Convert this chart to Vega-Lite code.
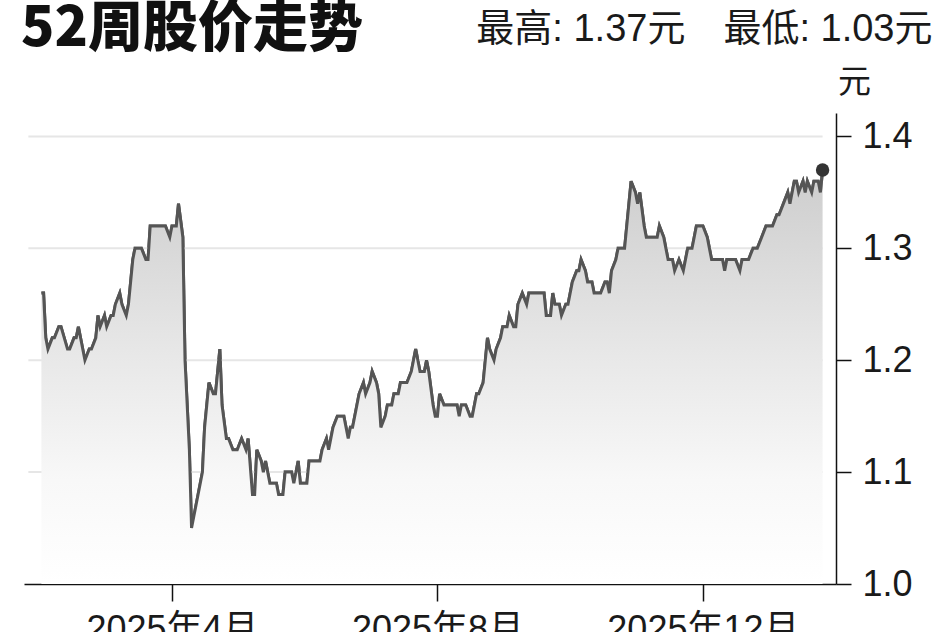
{
  "$schema": "https://vega.github.io/schema/vega-lite/v6.json",
  "autosize": {"type": "none"},
  "width": 812,
  "height": 471,
  "padding": {"left": 24, "top": 113, "right": 112, "bottom": 48},
  "background": "#ffffff",
  "title": {
    "text": "52周股价走势",
    "anchor": "start",
    "frame": "group",
    "orient": "top",
    "offset": 0,
    "dx": -3,
    "dy": 91,
    "baseline": "alphabetic",
    "font": "Noto Sans CJK SC",
    "fontSize": 55,
    "fontWeight": 900,
    "color": "#111111"
  },
  "config": {"view": {"stroke": null}},
  "data": {
    "values": [
      {"date": "2025-01-31", "price": 1.26}, {"date": "2025-02-01", "price": 1.26}, {"date": "2025-02-02", "price": 1.22}, {"date": "2025-02-03", "price": 1.21},
      {"date": "2025-02-05", "price": 1.22}, {"date": "2025-02-06", "price": 1.22}, {"date": "2025-02-08", "price": 1.23}, {"date": "2025-02-09", "price": 1.23},
      {"date": "2025-02-12", "price": 1.21}, {"date": "2025-02-13", "price": 1.21}, {"date": "2025-02-15", "price": 1.22}, {"date": "2025-02-16", "price": 1.22},
      {"date": "2025-02-17", "price": 1.23}, {"date": "2025-02-20", "price": 1.20}, {"date": "2025-02-22", "price": 1.21}, {"date": "2025-02-23", "price": 1.21},
      {"date": "2025-02-25", "price": 1.22}, {"date": "2025-02-26", "price": 1.24}, {"date": "2025-02-27", "price": 1.23}, {"date": "2025-03-01", "price": 1.24},
      {"date": "2025-03-02", "price": 1.23}, {"date": "2025-03-04", "price": 1.24}, {"date": "2025-03-05", "price": 1.24}, {"date": "2025-03-06", "price": 1.25},
      {"date": "2025-03-08", "price": 1.26}, {"date": "2025-03-09", "price": 1.25}, {"date": "2025-03-11", "price": 1.24}, {"date": "2025-03-12", "price": 1.25},
      {"date": "2025-03-14", "price": 1.29}, {"date": "2025-03-15", "price": 1.30}, {"date": "2025-03-18", "price": 1.30}, {"date": "2025-03-20", "price": 1.29},
      {"date": "2025-03-21", "price": 1.29}, {"date": "2025-03-22", "price": 1.32}, {"date": "2025-03-24", "price": 1.32}, {"date": "2025-03-26", "price": 1.32},
      {"date": "2025-03-27", "price": 1.32}, {"date": "2025-03-29", "price": 1.32}, {"date": "2025-03-31", "price": 1.31}, {"date": "2025-04-01", "price": 1.32},
      {"date": "2025-04-03", "price": 1.32}, {"date": "2025-04-04", "price": 1.34}, {"date": "2025-04-06", "price": 1.31}, {"date": "2025-04-07", "price": 1.20},
      {"date": "2025-04-09", "price": 1.12}, {"date": "2025-04-10", "price": 1.05}, {"date": "2025-04-12", "price": 1.07}, {"date": "2025-04-13", "price": 1.08},
      {"date": "2025-04-15", "price": 1.10}, {"date": "2025-04-16", "price": 1.14}, {"date": "2025-04-17", "price": 1.16}, {"date": "2025-04-18", "price": 1.18},
      {"date": "2025-04-20", "price": 1.17}, {"date": "2025-04-21", "price": 1.17}, {"date": "2025-04-23", "price": 1.21}, {"date": "2025-04-24", "price": 1.16},
      {"date": "2025-04-26", "price": 1.13}, {"date": "2025-04-27", "price": 1.13}, {"date": "2025-04-29", "price": 1.12}, {"date": "2025-05-01", "price": 1.12},
      {"date": "2025-05-03", "price": 1.13}, {"date": "2025-05-05", "price": 1.12}, {"date": "2025-05-06", "price": 1.13}, {"date": "2025-05-08", "price": 1.08},
      {"date": "2025-05-09", "price": 1.08}, {"date": "2025-05-10", "price": 1.12}, {"date": "2025-05-12", "price": 1.11}, {"date": "2025-05-13", "price": 1.10},
      {"date": "2025-05-14", "price": 1.11}, {"date": "2025-05-16", "price": 1.09}, {"date": "2025-05-17", "price": 1.09}, {"date": "2025-05-19", "price": 1.09},
      {"date": "2025-05-20", "price": 1.08}, {"date": "2025-05-22", "price": 1.08}, {"date": "2025-05-23", "price": 1.10}, {"date": "2025-05-25", "price": 1.10},
      {"date": "2025-05-26", "price": 1.10}, {"date": "2025-05-27", "price": 1.09}, {"date": "2025-05-29", "price": 1.11}, {"date": "2025-05-30", "price": 1.09},
      {"date": "2025-05-31", "price": 1.09}, {"date": "2025-06-02", "price": 1.09}, {"date": "2025-06-03", "price": 1.11}, {"date": "2025-06-05", "price": 1.11},
      {"date": "2025-06-06", "price": 1.11}, {"date": "2025-06-08", "price": 1.11}, {"date": "2025-06-09", "price": 1.12}, {"date": "2025-06-11", "price": 1.13},
      {"date": "2025-06-12", "price": 1.12}, {"date": "2025-06-14", "price": 1.14}, {"date": "2025-06-16", "price": 1.15}, {"date": "2025-06-17", "price": 1.15},
      {"date": "2025-06-19", "price": 1.15}, {"date": "2025-06-21", "price": 1.13}, {"date": "2025-06-22", "price": 1.14}, {"date": "2025-06-23", "price": 1.14},
      {"date": "2025-06-25", "price": 1.16}, {"date": "2025-06-26", "price": 1.17}, {"date": "2025-06-28", "price": 1.18}, {"date": "2025-06-29", "price": 1.17},
      {"date": "2025-07-01", "price": 1.18}, {"date": "2025-07-02", "price": 1.19}, {"date": "2025-07-04", "price": 1.18}, {"date": "2025-07-05", "price": 1.17},
      {"date": "2025-07-06", "price": 1.14}, {"date": "2025-07-08", "price": 1.15}, {"date": "2025-07-09", "price": 1.16}, {"date": "2025-07-11", "price": 1.16},
      {"date": "2025-07-12", "price": 1.17}, {"date": "2025-07-14", "price": 1.17}, {"date": "2025-07-15", "price": 1.18}, {"date": "2025-07-17", "price": 1.18},
      {"date": "2025-07-18", "price": 1.18}, {"date": "2025-07-20", "price": 1.19}, {"date": "2025-07-21", "price": 1.20}, {"date": "2025-07-22", "price": 1.21},
      {"date": "2025-07-24", "price": 1.19}, {"date": "2025-07-26", "price": 1.19}, {"date": "2025-07-27", "price": 1.20}, {"date": "2025-07-28", "price": 1.19},
      {"date": "2025-07-30", "price": 1.16}, {"date": "2025-07-31", "price": 1.15}, {"date": "2025-08-01", "price": 1.15}, {"date": "2025-08-02", "price": 1.17},
      {"date": "2025-08-04", "price": 1.16}, {"date": "2025-08-05", "price": 1.16}, {"date": "2025-08-07", "price": 1.16}, {"date": "2025-08-08", "price": 1.16},
      {"date": "2025-08-10", "price": 1.16}, {"date": "2025-08-11", "price": 1.15}, {"date": "2025-08-12", "price": 1.16}, {"date": "2025-08-14", "price": 1.16},
      {"date": "2025-08-16", "price": 1.15}, {"date": "2025-08-17", "price": 1.15}, {"date": "2025-08-19", "price": 1.17}, {"date": "2025-08-20", "price": 1.17},
      {"date": "2025-08-22", "price": 1.18}, {"date": "2025-08-24", "price": 1.22}, {"date": "2025-08-25", "price": 1.21}, {"date": "2025-08-27", "price": 1.20},
      {"date": "2025-08-28", "price": 1.21}, {"date": "2025-08-30", "price": 1.22}, {"date": "2025-08-31", "price": 1.23}, {"date": "2025-09-02", "price": 1.23},
      {"date": "2025-09-03", "price": 1.24}, {"date": "2025-09-05", "price": 1.23}, {"date": "2025-09-06", "price": 1.23}, {"date": "2025-09-07", "price": 1.25},
      {"date": "2025-09-09", "price": 1.26}, {"date": "2025-09-11", "price": 1.25}, {"date": "2025-09-12", "price": 1.26}, {"date": "2025-09-14", "price": 1.26},
      {"date": "2025-09-15", "price": 1.26}, {"date": "2025-09-17", "price": 1.26}, {"date": "2025-09-19", "price": 1.26}, {"date": "2025-09-20", "price": 1.24},
      {"date": "2025-09-22", "price": 1.24}, {"date": "2025-09-23", "price": 1.26}, {"date": "2025-09-24", "price": 1.25}, {"date": "2025-09-26", "price": 1.25},
      {"date": "2025-09-27", "price": 1.24}, {"date": "2025-09-29", "price": 1.25}, {"date": "2025-09-30", "price": 1.25}, {"date": "2025-10-02", "price": 1.27},
      {"date": "2025-10-04", "price": 1.28}, {"date": "2025-10-05", "price": 1.28}, {"date": "2025-10-06", "price": 1.29}, {"date": "2025-10-08", "price": 1.28},
      {"date": "2025-10-09", "price": 1.27}, {"date": "2025-10-11", "price": 1.27}, {"date": "2025-10-12", "price": 1.26}, {"date": "2025-10-13", "price": 1.26},
      {"date": "2025-10-15", "price": 1.26}, {"date": "2025-10-17", "price": 1.27}, {"date": "2025-10-18", "price": 1.27}, {"date": "2025-10-19", "price": 1.26},
      {"date": "2025-10-20", "price": 1.28}, {"date": "2025-10-22", "price": 1.29}, {"date": "2025-10-23", "price": 1.30}, {"date": "2025-10-25", "price": 1.30},
      {"date": "2025-10-26", "price": 1.30}, {"date": "2025-10-28", "price": 1.34}, {"date": "2025-10-29", "price": 1.36}, {"date": "2025-10-31", "price": 1.35},
      {"date": "2025-11-01", "price": 1.34}, {"date": "2025-11-02", "price": 1.35}, {"date": "2025-11-04", "price": 1.32}, {"date": "2025-11-05", "price": 1.31},
      {"date": "2025-11-07", "price": 1.31}, {"date": "2025-11-08", "price": 1.31}, {"date": "2025-11-10", "price": 1.31}, {"date": "2025-11-11", "price": 1.32},
      {"date": "2025-11-13", "price": 1.31}, {"date": "2025-11-14", "price": 1.30}, {"date": "2025-11-15", "price": 1.29}, {"date": "2025-11-17", "price": 1.29},
      {"date": "2025-11-18", "price": 1.28}, {"date": "2025-11-20", "price": 1.29}, {"date": "2025-11-22", "price": 1.28}, {"date": "2025-11-23", "price": 1.29},
      {"date": "2025-11-24", "price": 1.30}, {"date": "2025-11-26", "price": 1.30}, {"date": "2025-11-27", "price": 1.31}, {"date": "2025-11-28", "price": 1.32},
      {"date": "2025-11-30", "price": 1.32}, {"date": "2025-12-01", "price": 1.32}, {"date": "2025-12-03", "price": 1.31}, {"date": "2025-12-04", "price": 1.30},
      {"date": "2025-12-05", "price": 1.29}, {"date": "2025-12-07", "price": 1.29}, {"date": "2025-12-08", "price": 1.29}, {"date": "2025-12-10", "price": 1.29},
      {"date": "2025-12-11", "price": 1.28}, {"date": "2025-12-12", "price": 1.29}, {"date": "2025-12-14", "price": 1.29}, {"date": "2025-12-15", "price": 1.29},
      {"date": "2025-12-16", "price": 1.29}, {"date": "2025-12-18", "price": 1.28}, {"date": "2025-12-19", "price": 1.29}, {"date": "2025-12-21", "price": 1.29},
      {"date": "2025-12-22", "price": 1.29}, {"date": "2025-12-24", "price": 1.30}, {"date": "2025-12-25", "price": 1.30}, {"date": "2025-12-26", "price": 1.30},
      {"date": "2025-12-28", "price": 1.31}, {"date": "2025-12-30", "price": 1.32}, {"date": "2026-01-01", "price": 1.32}, {"date": "2026-01-02", "price": 1.32},
      {"date": "2026-01-04", "price": 1.33}, {"date": "2026-01-05", "price": 1.33}, {"date": "2026-01-07", "price": 1.34}, {"date": "2026-01-09", "price": 1.35},
      {"date": "2026-01-10", "price": 1.34}, {"date": "2026-01-12", "price": 1.36}, {"date": "2026-01-13", "price": 1.36}, {"date": "2026-01-14", "price": 1.35},
      {"date": "2026-01-16", "price": 1.36}, {"date": "2026-01-17", "price": 1.35}, {"date": "2026-01-18", "price": 1.36}, {"date": "2026-01-20", "price": 1.35},
      {"date": "2026-01-21", "price": 1.36}, {"date": "2026-01-23", "price": 1.36}, {"date": "2026-01-24", "price": 1.35}, {"date": "2026-01-25", "price": 1.37}
    ]
  },
  "layer": [
    {
      "mark": {"type": "line", "color": "#555555", "strokeWidth": 3},
      "encoding": {
        "x": {
          "field": "date",
          "type": "temporal",
          "scale": {"type": "utc", "domain": [{"year": 2025, "month": 1, "date": 23, "utc": true}, {"year": 2026, "month": 1, "date": 31, "hours": 4, "utc": true}]},
          "axis": {
            "orient": "bottom",
            "values": [
              {"year": 2025, "month": 4, "date": 1, "utc": true},
              {"year": 2025, "month": 8, "date": 1, "utc": true},
              {"year": 2025, "month": 12, "date": 1, "utc": true}
            ],
            "format": "%Y年%-m月",
            "grid": false,
            "domainColor": "#111111",
            "domainWidth": 1.5,
            "tickColor": "#111111",
            "tickWidth": 1.5,
            "tickSize": 17,
            "labelFont": "Liberation Sans, Noto Sans CJK SC",
            "labelFontSize": 36,
            "labelColor": "#1a1a1a",
            "labelPadding": 11,
            "labelLimit": 0,
            "labelFlush": false,
            "labelOverlap": false,
            "title": "最高: 1.37元\u3000最低: 1.03元",
            "titleX": 908,
            "titleY": -544,
            "titleAlign": "right",
            "titleBaseline": "alphabetic",
            "titleFont": "Liberation Sans, Noto Sans CJK SC",
            "titleFontSize": 38,
            "titleFontWeight": "normal",
            "titleColor": "#1a1a1a"
          }
        },
        "y": {
          "field": "price",
          "type": "quantitative",
          "scale": {"domain": [1.0, 1.421], "zero": false, "nice": false},
          "axis": {
            "orient": "right",
            "values": [1.0, 1.1, 1.2, 1.3, 1.4],
            "format": ".1f",
            "grid": false,
            "domainColor": "#111111",
            "domainWidth": 1.5,
            "tickColor": "#111111",
            "tickWidth": 1.5,
            "tickSize": 15,
            "labelFont": "Liberation Sans Narrow, Liberation Sans",
            "labelFontSize": 36,
            "labelColor": "#1a1a1a",
            "labelPadding": 11,
            "labelOverlap": false,
            "title": "元",
            "titleAngle": 0,
            "titleX": 18,
            "titleY": -31,
            "titleAlign": "center",
            "titleBaseline": "middle",
            "titleFont": "Noto Sans CJK SC",
            "titleFontSize": 33,
            "titleFontWeight": "normal",
            "titleColor": "#1a1a1a"
          }
        }
      }
    },
    {
      "data": {"values": [{"level": 1.1}, {"level": 1.2}, {"level": 1.3}, {"level": 1.4}]},
      "mark": {"type": "rule", "color": "#e6e6e6", "strokeWidth": 2},
      "encoding": {
        "y": {"field": "level", "type": "quantitative"},
        "x": {"datum": {"year": 2025, "month": 1, "date": 25, "utc": true}, "type": "temporal"},
        "x2": {"datum": {"year": 2026, "month": 1, "date": 25, "utc": true}}
      }
    },
    {
      "mark": {
        "type": "area",
        "color": {
          "x1": 0, "y1": 0, "x2": 0, "y2": 1,
          "gradient": "linear",
          "stops": [
            {"offset": 0, "color": "#cdcdcd"},
            {"offset": 0.45, "color": "#e8e8e8"},
            {"offset": 0.75, "color": "#f8f8f8"},
            {"offset": 1, "color": "#ffffff"}
          ]
        }
      },
      "encoding": {
        "x": {"field": "date", "type": "temporal"},
        "y": {"field": "price", "type": "quantitative"},
        "y2": {"datum": 1.0}
      }
    },
    {
      "mark": {"type": "line", "color": "#555555", "strokeWidth": 3},
      "encoding": {
        "x": {"field": "date", "type": "temporal"},
        "y": {"field": "price", "type": "quantitative"}
      }
    },
    {
      "transform": [{"filter": {"field": "date", "equal": {"year": 2026, "month": 1, "date": 25, "utc": true}}}],
      "mark": {"type": "point", "filled": true, "color": "#333333", "opacity": 1, "size": 180},
      "encoding": {
        "x": {"field": "date", "type": "temporal"},
        "y": {"field": "price", "type": "quantitative"}
      }
    }
  ]
}
